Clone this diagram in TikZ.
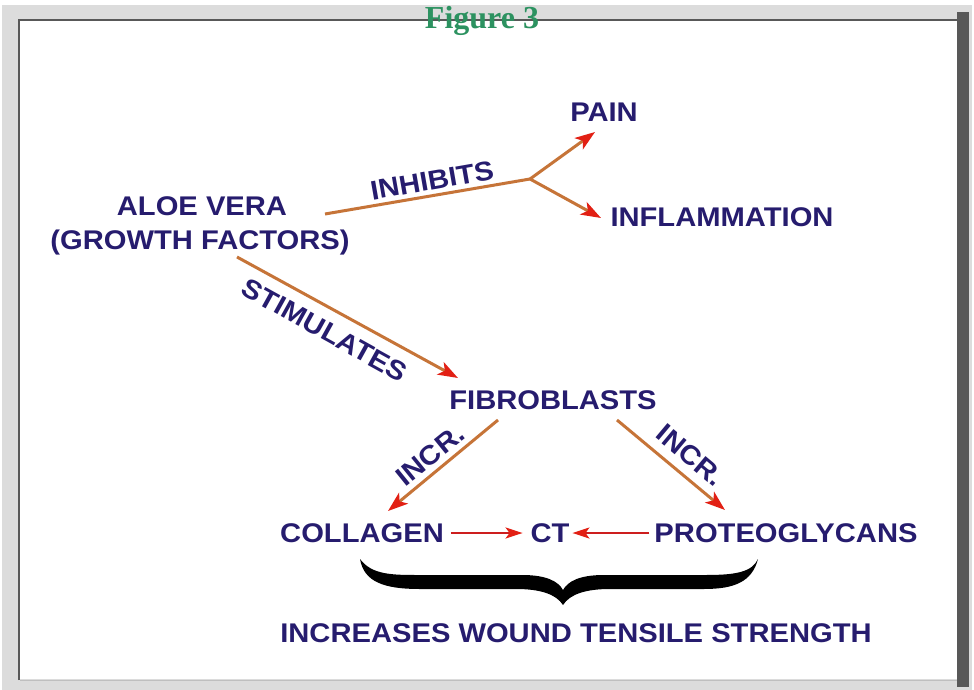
\documentclass[tikz,border=0pt]{standalone}
\usepackage{fontspec}
\usetikzlibrary{arrows.meta,calc}
\newfontfamily\labfont[FakeStretch=1.08]{Liberation Sans}
\newfontfamily\titfont{Liberation Serif}
\definecolor{navy}{RGB}{38,28,110}
\definecolor{lineor}{RGB}{198,116,56}
\definecolor{arrred}{RGB}{226,32,20}
\definecolor{ctred}{RGB}{205,30,30}
\definecolor{lightg}{RGB}{220,220,220}
\definecolor{darkg}{RGB}{88,88,88}
\definecolor{titgreen}{RGB}{44,146,96}
\begin{document}
\begin{tikzpicture}[x=1pt,y=-1pt,
  lab/.style={text=navy,inner sep=0pt,outer sep=0pt,text height=19.3pt,text depth=0pt,
    font=\labfont\bfseries\fontsize{27}{30}\selectfont},
  con/.style={draw=lineor,line width=3pt,-{Stealth[length=20pt,width=14pt,inset=5pt,color=arrred]}},
  conplain/.style={draw=lineor,line width=3pt},
  ctarrow/.style={draw=ctred,line width=2pt,-{Stealth[length=17pt,width=11pt,inset=4pt,color=arrred]}}]
\useasboundingbox (0,0) rectangle (974,690);
% frame
\fill[white] (0,0) rectangle (974,690);
\fill[lightg] (2,5) rectangle (972,690);
\fill[darkg] (957,12) rectangle (969,687);
\fill[white] (20,21) rectangle (957,679);
\draw[darkg,line width=2.5pt] (19,680) -- (19,20) -- (957,20);
\draw[black!25,line width=1pt] (20,680) -- (957,680);
% title
\node[anchor=base,text=titgreen,inner sep=0pt,font=\titfont\bfseries\fontsize{32}{36}\selectfont] (title) at (482,29) {Figure 3};
% nodes
\node[lab] (aloe1) at (202,206) {ALOE VERA};
\node[lab] (aloe2) at (200,240) {(GROWTH FACTORS)};
\node[lab] (pain) at (604,112) {PAIN};
\node[lab] (infl) at (722,217) {INFLAMMATION};
\node[lab] (fibro) at (553,400) {FIBROBLASTS};
\node[lab] (coll) at (362,533) {COLLAGEN};
\node[lab] (ct) at (550,533) {CT};
\node[lab] (prot) at (786,533) {PROTEOGLYCANS};
\node[lab] (inc) at (576,633) {INCREASES WOUND TENSILE STRENGTH};
% edge labels
\node[lab,rotate=10] (linh) at (432,180) {INHIBITS};
\node[lab,rotate=-29] (lstim) at (325,330) {STIMULATES};
\node[lab,rotate=39] (lincl) at (430,455) {INCR.};
\node[lab,rotate=-40] (lincr) at (691,455) {INCR.};
% connector end points
\coordinate (s1) at (325,214);
\coordinate (j) at (530,179);
\coordinate (painIn) at (595,132);
\coordinate (inflIn) at (601,218);
\coordinate (s2) at (237,257);
\coordinate (fibIn) at (458,378);
\coordinate (f1) at (498,420);
\coordinate (collIn) at (388,511);
\coordinate (f2) at (617,420);
\coordinate (protIn) at (725,510);
% connectors
\draw[conplain] (s1) -- (j);
\draw[con] (j) -- (painIn);
\draw[con] (j) -- (inflIn);
\draw[con] (s2) -- (fibIn);
\draw[con] (f1) -- (collIn);
\draw[con] (f2) -- (protIn);
\draw[ctarrow,shorten <=7pt,shorten >=8pt] (coll.east) -- (ct.west);
\draw[ctarrow,shorten <=5pt,shorten >=3pt] (prot.west) -- (ct.east);
% brace
\fill[black] (360,559) .. controls (372,575) and (392,575) .. (420,575)
  -- (522,575) .. controls (546,575) and (558,581) .. (563,590)
  .. controls (568,581) and (580,575) .. (604,575)
  -- (706,575) .. controls (736,575) and (752,572) .. (758,559)
  .. controls (752,582) and (734,589) .. (704,589)
  -- (610,589) .. controls (586,589) and (570,594) .. (563,605)
  .. controls (556,594) and (540,589) .. (516,589)
  -- (420,589) .. controls (384,589) and (364,582) .. (360,559) -- cycle;
\end{tikzpicture}
\end{document}
